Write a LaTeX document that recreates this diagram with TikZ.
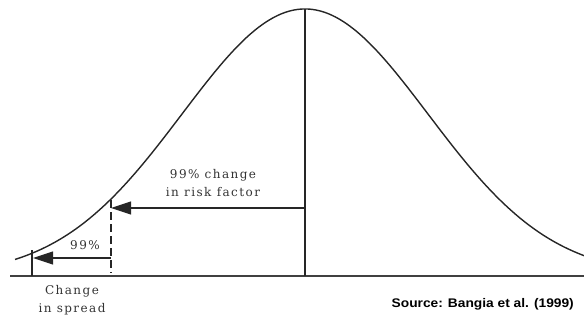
\documentclass[tikz,border=0pt]{standalone}
\usepackage{fontspec}
\usetikzlibrary{arrows.meta}
\newfontfamily\labfont[LetterSpace=12]{DejaVu Serif}
\newfontfamily\srcfont{Liberation Sans}
\begin{document}
\begin{tikzpicture}[x=1pt,y=-1pt,
  thinline/.style={line width=1.1pt,black!85},
  curveline/.style={line width=1.4pt,black!85},
  bigarrow/.style={line width=1.1pt,black!85,-{Triangle[length=20pt,width=13pt]}},
  dashline/.style={line width=1.1pt,black!85,dash pattern=on 8pt off 4pt},
  lab/.style={font=\labfont\fontsize{12}{18}\selectfont,text=black!80,align=center,inner sep=0pt,anchor=base},
  srclab/.style={font=\srcfont\bfseries\fontsize{12.5}{14}\selectfont,inner sep=0pt,anchor=base east}]
\useasboundingbox (0,0) rectangle (584,325);
% axis
\coordinate (axL) at (10,276);
\coordinate (axR) at (584,276);
\draw[line width=1.6pt,black!75] (axL) -- (axR);
% curve
\draw[curveline] plot[domain=15:584,samples=200,smooth] (\x,{276-267*exp(-0.5*((\x-305)/123)^2)});
% mean line
\coordinate (peak) at (305,9);
\coordinate (mbase) at (305,276);
\draw[thinline] (peak) -- (mbase);
% risk factor arrow
\coordinate (rstart) at (305,208);
\coordinate (rtip) at (111,208);
\draw[bigarrow] (rstart) -- (rtip);
% dashed line
\coordinate (dtop) at (111,200);
\coordinate (dbot) at (111,273);
\draw[dashline] (dtop) -- (dbot);
% spread arrow
\coordinate (sstart) at (111,258);
\coordinate (stip) at (33,258);
\draw[bigarrow] (sstart) -- (stip);
% left vertical
\coordinate (vtop) at (32,250);
\coordinate (vbot) at (32,276);
\draw[thinline] (vtop) -- (vbot);
% labels
\node[lab] (rf) at (213,196) {99\% change\\in risk factor};
\node[lab] (p99) at (85,249) {99\%};
\node[lab] (cs) at (72,312) {Change\\in spread};
\node[srclab] (src) at (574,307) {\scalebox{1.1}[1]{Source: Bangia et al. (1999)}};
\end{tikzpicture}
\end{document}
